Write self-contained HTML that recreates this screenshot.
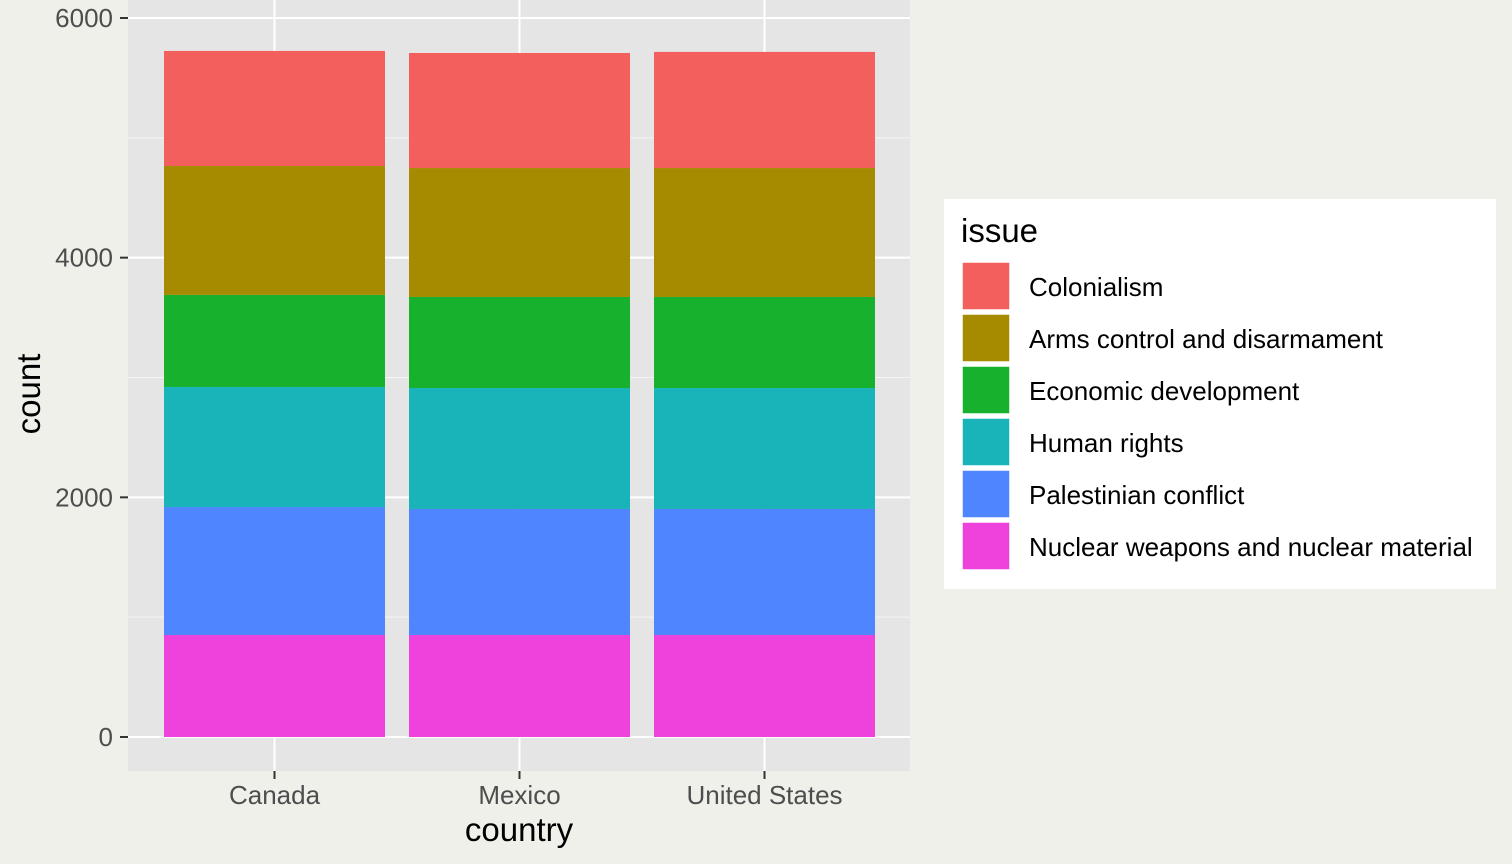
<!DOCTYPE html>
<html><head><meta charset="utf-8"><style>
body{margin:0;background:#f0f0eb;}
svg{display:block;font-family:"Liberation Sans",sans-serif;}
</style></head><body>
<svg id="c" width="1512" height="864">
<rect x="0" y="0" width="1512" height="864" fill="#f0f0eb"/>
<rect x="128" y="0" width="782" height="771" fill="#e5e5e5"/>
<g id="grid"></g><g id="bars"></g><g id="axes"></g><g id="legend"></g>
</svg>
<script>
const categories=["Canada","Mexico","United States"];
const issues=["Colonialism","Arms control and disarmament","Economic development","Human rights","Palestinian conflict","Nuclear weapons and nuclear material"];
const colors=["#f25f5c","#a68b00","#17b12e","#18b4b9","#4f86ff","#ef42dc"];
const nuclear=[851,851,851];
const palestinian=[1068,1052,1052];
const human=[1002,1009,1009];
const economic=[768,760,760];
const arms=[1076,1076,1076];
const colonialism=[960,960,969];
const yTicks=[0,2000,4000,6000];
const NS="http://www.w3.org/2000/svg";
const y0=737,yScale=(737-18)/6000;
const y=v=>y0-v*yScale;
const bandStart=152,band=245,barW=221;
const xc=i=>bandStart+band*i+band/2;
function mk(tag,attrs,parent){const e=document.createElementNS(NS,tag);for(const k in attrs)e.setAttribute(k,attrs[k]);document.getElementById(parent).appendChild(e);return e;}
[1000,3000,5000].forEach(v=>{const l=mk('line',{x1:128,x2:910,y1:y(v),y2:y(v),stroke:'#f5f5f5','stroke-width':1},'grid');

});
yTicks.forEach(v=>{const l=mk('line',{x1:128,x2:910,y1:y(v),y2:y(v),stroke:'#fff','stroke-width':2},'grid');


const t=mk('line',{x1:120,x2:128,y1:y(v),y2:y(v),stroke:'#333','stroke-width':2},'axes');


const tx=mk('text',{x:113,y:y(v)+9,'text-anchor':'end','font-size':26,fill:'#4d4d4d'},'axes');tx.textContent=v;

});
categories.forEach((c,i)=>{const l=mk('line',{x1:xc(i),x2:xc(i),y1:0,y2:771,stroke:'#fff','stroke-width':2},'grid');


const t=mk('line',{x1:xc(i),x2:xc(i),y1:771,y2:779,stroke:'#333','stroke-width':2},'axes');


const tx=mk('text',{x:xc(i),y:804,'text-anchor':'middle','font-size':26,fill:'#4d4d4d'},'axes');tx.textContent=c;

});
const stack=[nuclear,palestinian,human,economic,arms,colonialism];
const stackColors=[colors[5],colors[4],colors[3],colors[2],colors[1],colors[0]];
categories.forEach((c,i)=>{let cum=0;stack.forEach((s,k)=>{const top=cum+s[i];
const r=mk('rect',{x:xc(i)-barW/2,y:y(top),width:barW,height:y(cum)-y(top),fill:stackColors[k]},'bars');


cum=top;});});
let t=mk('text',{x:519,y:841,'text-anchor':'middle','font-size':33,fill:'#000'},'axes');t.textContent='country';


t=mk('text',{x:0,y:0,'text-anchor':'middle','font-size':33,fill:'#000',transform:'translate(40,394) rotate(-90)'},'axes');t.textContent='count';


const lb=mk('rect',{x:944,y:199,width:552,height:390,fill:'#fff'},'legend');


t=mk('text',{x:961,y:242,'font-size':33,fill:'#000'},'legend');t.textContent='issue';


issues.forEach((s,k)=>{const yy=262+52*k;
const r=mk('rect',{x:962,y:yy,width:48,height:48,fill:colors[k],stroke:'#fff','stroke-width':1.5},'legend');


const tx=mk('text',{x:1029,y:yy+34,'font-size':26,fill:'#000'},'legend');tx.textContent=s;

});
</script>
</body></html>
